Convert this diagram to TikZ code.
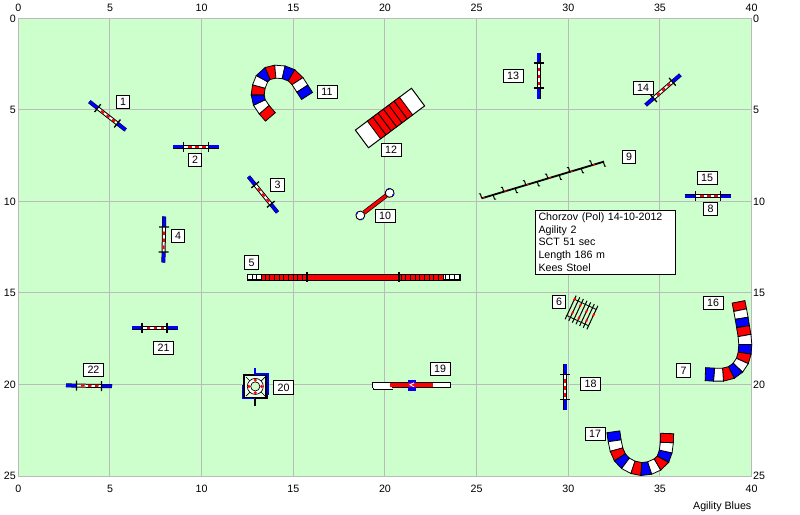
\documentclass[tikz,border=0pt]{standalone}
\usepackage{fontspec}
\setmainfont{Liberation Sans}
\usetikzlibrary{calc}
\definecolor{fieldgreen}{HTML}{CCFFCC}
\definecolor{gridgrey}{HTML}{BBBBBB}
\definecolor{obred}{HTML}{FF0000}
\definecolor{obblue}{HTML}{0000FF}
\tikzset{
  gridline/.style={gridgrey,line width=1pt},
  lbl/.style={draw=black,fill=white,line width=1pt,inner sep=0pt,minimum height=13.5pt,font=\fontsize{10.67}{12}\selectfont,text=black},
  lbla/.style={lbl,minimum width=13.5pt},
  lblb/.style={lbl,minimum width=20pt},
  axis/.style={inner sep=0pt,font=\fontsize{10.67}{12}\selectfont,text=black},
  obline/.style={black,line width=1pt},
}
\newcommand{\jumpobs}[3]{%
  \begin{scope}[shift={(#1,#2)},rotate=-#3]
    \fill[black] (-23,-2) rectangle (23,2);
    \fill[obblue] (-23,-1.5) rectangle (-12.5,1.5);
    \fill[obblue] (12.5,-1.5) rectangle (23,1.5);
    \fill[white] (-12.5,-1) rectangle (12.5,1);
    \foreach \t in {-8,-1,6}{\fill[obred] (\t,-1) rectangle (\t+3.5,1);}
    \draw[black,line width=1.3pt] (-12.5,-5) -- (-12.5,5);
    \draw[black,line width=1.3pt] (12.5,-5) -- (12.5,5);
  \end{scope}}
\newcommand{\tunnelobs}[1]{%
  \foreach \x/\y/\c [count=\i] in {#1}{%
    \coordinate (P\i) at (\x,\y);
    \ifnum\i>1
      \pgfmathtruncatemacro{\ip}{\i-1}%
      \coordinate (TL\i) at ($(P\ip)!.5!(P\i)!6.5pt!90:(P\i)$);
      \coordinate (TR\i) at ($(P\ip)!.5!(P\i)!6.5pt!-90:(P\i)$);
    \fi
    \ifnum\i>2
      \pgfmathtruncatemacro{\ip}{\i-1}%
      \filldraw[draw=black,line width=.8pt,line join=miter,fill=\cprev] (TL\ip) -- (TL\i) -- (TR\i) -- (TR\ip) -- cycle;
    \fi
    \global\let\cprev\c
  }}
\begin{document}
\begin{tikzpicture}[x=1pt,y=-1pt]
\useasboundingbox (0,0) rectangle (800,514);
\fill[white] (0,0) rectangle (800,514);
\fill[fieldgreen] (18.3,18.4) rectangle (751.7,476);
% grid
\foreach \k in {0,...,8}{\draw[gridline] (18.3+91.67*\k,18.4) -- (18.3+91.67*\k,476);}
\foreach \k in {0,...,5}{\draw[gridline] (18.3,18.4+91.52*\k) -- (751.7,18.4+91.52*\k);}
% axes
\foreach \k in {0,...,8}{
  \pgfmathtruncatemacro{\v}{5*\k}
  \node[axis] (top\k) at (18.3+91.67*\k,7.5) {\v};
  \node[axis] (bot\k) at (18.3+91.67*\k,488.5) {\v};
}
\foreach \k in {0,...,5}{
  \pgfmathtruncatemacro{\v}{5*\k}
  \node[axis,anchor=east] (lft\k) at (16,18.4+91.52*\k) {\v};
  \node[axis,anchor=west] (rgt\k) at (753,18.4+91.52*\k) {\v};
}
\node[axis,anchor=base east] (brand) at (751.5,509) {Agility Blues};
% jumps
\jumpobs{107.5}{115.8}{38}
\jumpobs{196}{146.7}{0}
\jumpobs{263}{194.5}{51}
\jumpobs{163.8}{239.5}{91}
\jumpobs{708.3}{196}{0}
\jumpobs{538.7}{75.5}{90}
\jumpobs{663}{90}{-41}
\jumpobs{565}{387}{90}
\jumpobs{154.5}{327.5}{0}
\jumpobs{89}{385.8}{1}
% tunnel 11
\tunnelobs{273.5/120.5/none,267.3/113.3/obred,261/106/white,257.7/99/obblue,257.7/90.7/obred,260/82.3/white,264/75/obblue,271.3/72/obred,279.3/71.3/white,288/73.3/obblue,295/77.3/obred,300/85/white,304.7/92.3/obblue,309.4/99.6/none}
% tunnel 16
\tunnelobs{737.7/297.7/none,739.3/306/obred,741/314.3/white,742.3/322.3/obblue,743.7/331/obred,745.3/340/white,745.3/349/obblue,744/357.3/obred,740.7/364.7/white,735/370.7/obblue,727.7/374.3/obred,718.3/375/white,709.7/374.3/obblue,701/374/none}
% tunnel 17
\tunnelobs{612.7/427.3/none,614/436.3/obblue,615.3/445.3/white,617.7/454/obred,622/460.7/obblue,629/466/white,637/468.7/obred,645.7/469.3/obblue,653.7/466.7/white,661.3/462.3/obred,664.7/456/obblue,666.7/447/white,667/438/obred,667.3/429/none}
% A-frame 12
\begin{scope}[shift={(390,118)},rotate=36.7]
  \filldraw[draw=black,line width=1pt,fill=white] (-35,-11) rectangle (35,11);
  \filldraw[draw=black,line width=.8pt,fill=obred] (-20,-11) rectangle (20,11);
  \foreach \t in {-13.3,-6.7,0,6.7,13.3}{\draw[obline] (\t,-11) -- (\t,11);}
\end{scope}
% dog walk 5
\filldraw[draw=black,line width=1.2pt,fill=white] (247.5,274.5) rectangle (460,280);
\fill[obred] (261.7,275) rectangle (443.3,279.5);
\foreach \k in {0,1,2}{\draw[obline,line width=.8pt] (252+4.67*\k,274.5) -- (252+4.67*\k,280);}
\foreach \k in {0,...,9}{\draw[obline,line width=.8pt] (265+4.67*\k,275) -- (265+4.67*\k,280);}
\foreach \k in {0,...,9}{\draw[obline,line width=.8pt] (401+4.67*\k,275) -- (401+4.67*\k,280);}
\foreach \k in {0,1,2}{\draw[obline,line width=.8pt] (445+4.67*\k,274.5) -- (445+4.67*\k,280);}
\draw[black,line width=1pt] (307,280.5) -- (352.7,280.5);
\draw[black,line width=2pt] (307.3,272) -- (307.3,282);
\draw[black,line width=2pt] (399.3,272) -- (399.3,282);
% see-saw 19
\filldraw[draw=black,line width=.8pt,fill=white] (372.5,382) rectangle (450.7,387.5);
\fill[white] (373,387) rectangle (392,389);
\draw[black,line width=.8pt] (373,387.5) -- (373,389) -- (392.5,389);
\fill[obred] (390,382.5) rectangle (432.7,387);
\fill[obblue] (408.3,380) rectangle (415.7,390.7);
\fill[obred] (408.3,382.5) rectangle (415.7,387);
\draw[white,line width=.8pt] (414,382.8) -- (410,384.8) -- (414,386.8);
% tyre 20
\draw[obblue,line width=1.6pt] (255,368.3) -- (255,374);
\draw[black,line width=1.6pt] (255,398) -- (255,405.7);
\filldraw[draw=black,line width=2.4pt,fill=fieldgreen!50!white] (244,375) rectangle (266.6,398);
\draw[black,line width=.7pt] (246,377) -- (265,396) (265,377) -- (246,396);
\draw[obblue,line width=1.5pt] (255,373.8) -- (268,373.8) -- (268,395);
\draw[obblue,line width=1.5pt] (242.5,385) -- (242.5,398.6) -- (255,398.6);
\filldraw[draw=black,line width=.7pt,fill=white] (255.3,386.4) circle (8);
\filldraw[draw=black,line width=.7pt,fill=fieldgreen] (255.3,386.4) circle (4.6);
\foreach \a in {0,90,180,270}{\fill[obred] (255.3,386.4) ++(\a:6.4) circle (1.7);}
% tunnel-table 10
\begin{scope}[shift={(375,204.2)},rotate=37.5]
  \draw[black,line width=4.4pt] (-14,0) -- (14,0);
  \draw[obred,line width=3pt] (-15,0) -- (15,0);
  \foreach \s in {-1,1}{
    \filldraw[draw=black,line width=.9pt,fill=white] (\s*18.5,0) circle (4.4);
    \fill[obblue] (\s*20,-3.8) circle (1.1) (\s*20,3.8) circle (1.1);
  }
\end{scope}
% long jump 9
\begin{scope}[shift={(481.7,198.3)},rotate=16.7]
  \foreach \t in {0,23,46,69,92,115}{\draw[obline] (\t,0) -- (\t,-4.5) -- (\t-1.5,-5);}
  \foreach \t in {12,35,58,81,104,127}{\draw[obline] (\t,0) -- (\t,4.5) -- (\t+1.5,5);}
  \draw[black,line width=1.8pt] (0,0) -- (127.7,0);
  \foreach \t in {1,24,47,70,93,116}{\draw[obred,line width=1.2pt] (\t,0) -- (\t+2,0);}
\end{scope}
% weave 6
\begin{scope}[shift={(581.5,312.5)},rotate=-25]
  \foreach \t in {-12,-8,-4,0,4,8,12}{\draw[obline,line width=1pt] (\t,-13) -- (\t,13);}
  \draw[obline,line width=.8pt] (-12,-9) -- (12,-9) (-12,9) -- (12,9);
  \foreach \t/\u in {-12/-9,-8/4,-4/-6,0/6,4/-3,8/5,12/-3}{\fill[obred] (\t-.9,\u-1.5) rectangle (\t+.9,\u+1.5);}
\end{scope}
% number labels
\node[lbla] (n1) at (123,102) {1};
\node[lbla] (n2) at (195,160) {2};
\node[lbla] (n3) at (277.5,185) {3};
\node[lbla] (n4) at (178,236) {4};
\node[lbla] (n5) at (251.5,262.5) {5};
\node[lbla] (n6) at (559,302) {6};
\node[lbla] (n7) at (683.5,370.5) {7};
\node[lbla] (n8) at (710.5,209) {8};
\node[lbla] (n9) at (629,157) {9};
\node[lblb] (n10) at (385,216) {10};
\node[lblb] (n11) at (327,92) {11};
\node[lblb] (n12) at (391,150) {12};
\node[lblb] (n13) at (513,76) {13};
\node[lblb] (n14) at (643,88) {14};
\node[lblb] (n15) at (707,178) {15};
\node[lblb] (n16) at (713,303) {16};
\node[lblb] (n17) at (595,434) {17};
\node[lblb] (n18) at (590.5,384) {18};
\node[lblb] (n19) at (440,369) {19};
\node[lblb] (n20) at (283.5,387.5) {20};
\node[lblb] (n21) at (163.5,348) {21};
\node[lblb] (n22) at (93.5,370) {22};
% info
\node[draw=black,fill=white,line width=1pt,anchor=north west,inner sep=0pt,minimum height=64pt,
      text width=140pt,align=left,font=\fontsize{10.67}{12.6}\selectfont] (info) at (535,209.5)
  {\hspace*{3pt}Chorzov (Pol) 14-10-2012\\\hspace*{3pt}Agility 2\\\hspace*{3pt}SCT 51 sec\\\hspace*{3pt}Length 186 m\\\hspace*{3pt}Kees Stoel};
\end{tikzpicture}
\end{document}
